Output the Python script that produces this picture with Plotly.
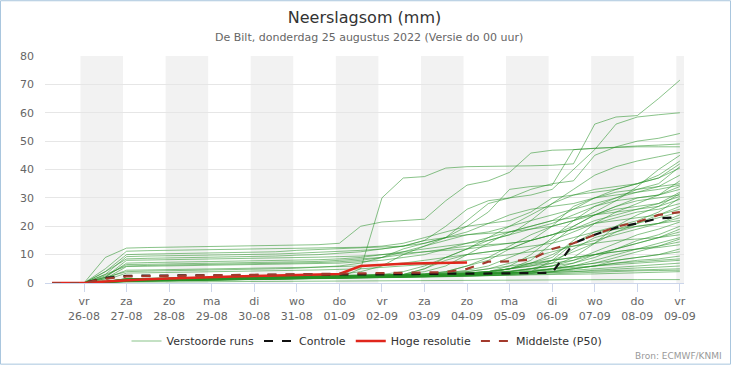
import pandas as pd
import plotly.graph_objects as go

# ---------------- data ----------------
times = ["2022-08-25 06:00", "2022-08-25 12:00"] + [
    t.strftime("%Y-%m-%d %H:%M") for t in pd.date_range("2022-08-26 00:00", "2022-09-09 00:00", freq="12h")
]

day_names = ["vr", "za", "zo", "ma", "di", "wo", "do", "vr", "za", "zo", "ma", "di", "wo", "do", "vr"]
day_dates = ["26-08", "27-08", "28-08", "29-08", "30-08", "31-08", "01-09", "02-09",
             "03-09", "04-09", "05-09", "06-09", "07-09", "08-09", "09-09"]
day_ticks = ["2022-08-26", "2022-08-27", "2022-08-28", "2022-08-29", "2022-08-30", "2022-08-31",
             "2022-09-01", "2022-09-02", "2022-09-03", "2022-09-04", "2022-09-05", "2022-09-06",
             "2022-09-07", "2022-09-08", "2022-09-09"]
y_ticks = [0, 10, 20, 30, 40, 50, 60, 70, 80]

m01 = [0,0,0,0.3,0.8,0.9,1,1,1.1,1.2,1.3,1.4,1.5,1.6,2,5,30,37,37.5,40.5,41,41,41.2,41.3,41.5,42,56,58.5,59,65,71.5]
m02 = [0,0,0,4,8.5,8.7,8.8,9,9.1,9.2,9.3,9.5,9.8,10,10.5,11,12,13,15,20,26,29,30,31,33,40,47,56,58.5,59.3,60]
m03 = [0,0,0,2,4,4.2,4.3,4.4,4.5,4.6,4.8,5,5.2,5.5,6,7,9,12,14,16,22,28,30,33,35,36,45,48,50,51,52.7]
m04 = [0,0,0,9,12.3,12.5,12.6,12.7,12.8,12.9,13,13.1,13.3,13.5,14,20,21.5,22,22.5,29,34.5,36,39,45.8,46.8,47,47.5,48,48.3,48.6,49]
m05 = [0,0,0,0.5,1.5,1.6,1.7,1.8,1.9,2,2.1,2.2,2.3,2.5,3,4,6,10,13,16,20,25,33,34,34.5,47,47.5,47.8,48,48,48]
m06 = [0,0,0,3,6,6.2,6.3,6.4,6.5,6.6,6.7,6.8,7,7.2,7.5,8,9,11,13,15,17,18,20,24,28,33,38,41,43,44.5,46]
m07 = [0,0,0,0.4,1,1.1,1.2,1.3,1.4,1.5,1.6,1.7,1.8,1.9,2,2.2,2.5,3,4,6,10,14,18,19,20,22,25,29,34,40,45]
m08 = [0,0,0,5,11.2,11.4,11.5,11.6,11.7,11.8,11.9,12,12.1,12.2,12.4,12.6,13,14,16,18,20,21,22,25,30,31,32,33,35,38,43]
m09 = [0,0,0,0.3,0.8,0.9,1,1.1,1.2,1.3,1.4,1.5,1.6,1.7,1.8,2,2.5,3,5,9,12,15,17,22,28,31,33,34,35,37,42]
m10 = [0,0,0,0.5,1.2,1.3,1.4,1.5,1.6,1.7,1.8,1.9,2,2.1,2.2,2.4,2.6,2.8,3,3.2,3.5,4,6,10,16,22,27,30,33,35,41]
m11 = [0,0,0,4,10,10.2,10.3,10.4,10.5,10.6,10.7,11,11.5,11.8,12,12.3,12.5,13,14,16,18,21,24,26,27,28,30,33,35,37,40.5]
m12 = [0,0,0,0.5,1.5,1.6,1.7,1.8,1.9,2,2.1,2.2,2.3,2.4,2.5,2.6,2.8,3,5,8,10,11,12,15,20,27,30,31,32,34,38]
m13 = [0,0,0,0.3,1,1.1,1.2,1.3,1.4,1.5,1.6,1.7,1.8,1.9,2,2.1,2.2,2.3,2.5,2.7,3,3.5,5,8,14,20,24,27,30,31,36]
m14 = [0,0,0,3,9.3,9.5,9.6,9.7,9.8,9.9,10,10.2,10.5,10.8,11,11.5,12,13,15,16,17,17.5,18,20,22,26,30,32,33,34,35]
m15 = [0,0,0,0.5,1.3,1.4,1.5,1.6,1.7,1.8,1.9,2,2.1,2.2,2.3,2.5,3,4,6,9,12,16,20,22,24,26,28,30,32,33,34.5]
m16 = [0,0,0,0.2,0.6,0.7,0.8,0.9,1,1.1,1.2,1.3,1.4,1.5,1.6,1.7,1.9,2.1,2.4,2.8,3.2,4,5,7,9,15,21,25,28,31,34]
m17 = [0,0,0,2,7,7.2,7.3,7.4,7.5,7.6,7.7,7.8,8,8.2,8.5,9,10,11,12,13,14,15,17,19,21,24,27,29,30,31,33]
m18 = [0,0,0,0.4,1.1,1.2,1.3,1.4,1.5,1.6,1.7,1.8,1.9,2,2.1,2.3,2.5,2.8,3,4,6,8,12,15,17,19,22,24,26,28,32]
m19 = [0,0,0,0.3,0.9,1,1.1,1.2,1.3,1.4,1.5,1.6,1.7,1.8,1.9,2,2.2,2.4,2.6,2.8,3,3.5,4,5,6,9,14,20,24,27,31.5]
m20 = [0,0,0,2.5,6.5,6.6,6.7,6.8,6.9,7,7.1,7.2,7.4,7.6,8,8.5,9,10,11,12,13,13.5,14,15,17,20,24,27,29,30,31]
m21 = [0,0,0,0.5,1.4,1.5,1.6,1.7,1.8,1.9,2,2.1,2.2,2.3,2.4,2.5,2.7,2.9,3.2,4,6,9,13,17,20,22,24,26,27,28,30.5]
m22 = [0,0,0,0.3,0.8,0.9,1,1.1,1.2,1.3,1.4,1.5,1.6,1.7,1.8,1.9,2,2.2,2.4,2.6,2.8,3,3.3,4,8,14,18,20,22,25,30]
m23 = [0,0,0,1.5,5.8,5.9,6,6.1,6.2,6.3,6.4,6.5,6.7,6.9,7,7.5,8,9,10,12,14,16,18,20,22,23,24,25,26,27,29.5]
m24 = [0,0,0,0.4,1.2,1.3,1.4,1.5,1.6,1.7,1.8,1.9,2,2.1,2.2,2.3,2.5,2.7,3,3.5,4.5,6,9,12,15,18,21,23,25,26,28]
m25 = [0,0,0,0.2,0.7,0.8,0.9,1,1.1,1.2,1.3,1.4,1.5,1.6,1.7,1.8,2,2.2,2.5,3,3.5,4,5,6,8,11,14,18,21,24,27]
m26 = [0,0,0,2,8,8.1,8.2,8.3,8.4,8.5,8.6,8.7,8.9,9.1,9.3,9.5,10,10.5,11,11.5,12,13,14,15,17,19,21,22,23,24,26]
m27 = [0,0,0,0.3,1,1.1,1.2,1.3,1.4,1.5,1.6,1.7,1.8,1.9,2,2.1,2.2,2.4,2.7,3,3.4,4,5,7,10,14,17,19,21,23,25]
m28 = [0,0,0,0.5,1.5,1.6,1.7,1.8,1.9,2,2.1,2.2,2.3,2.4,2.5,2.6,2.8,3,3.3,3.6,4,5,7,9,11,13,15,17,19,21,24]
m29 = [0,0,0,0.2,0.6,0.7,0.8,0.9,1,1.1,1.2,1.3,1.4,1.5,1.6,1.7,1.8,2,2.2,2.5,2.8,3.2,4,5,7,12,16,18,20,21,23]
m30 = [0,0,0,1.5,4.5,4.6,4.7,4.8,4.9,5,5.1,5.2,5.4,5.6,5.8,6,6.5,7,8,9,10,11,12,13,14,16,18,19,20,21,22]
m31 = [0,0,0,0.4,1.2,1.3,1.4,1.5,1.6,1.7,1.8,1.9,2,2.1,2.2,2.3,2.4,2.6,2.8,3,3.3,3.7,4.2,5,6,8,11,14,17,19,21.5]
m32 = [0,0,0,0.3,0.9,1,1.1,1.2,1.3,1.4,1.5,1.6,1.7,1.8,1.9,2,2.1,2.3,2.5,2.8,3,3.5,4,5,6,7,9,12,15,17,20]
m33 = [0,0,0,0.5,1.4,1.5,1.6,1.7,1.8,1.9,2,2.1,2.2,2.3,2.4,2.5,2.6,2.8,3,3.3,3.6,4,5,6,7,8,10,12,14,16,19]
m34 = [0,0,0,0.2,0.7,0.8,0.9,1,1.1,1.2,1.3,1.4,1.5,1.6,1.7,1.8,1.9,2,2.2,2.4,2.6,3,3.5,4,5,7,10,12,14,16,18]
m35 = [0,0,0,1,3.5,3.6,3.7,3.8,3.9,4,4.1,4.2,4.4,4.6,4.8,5,5.5,6,6.5,7,8,9,10,11,12,13,14,15,15.5,16,17]
m36 = [0,0,0,0.3,1,1.1,1.2,1.3,1.4,1.5,1.6,1.7,1.8,1.9,2,2.1,2.2,2.4,2.6,2.8,3,3.3,3.6,4,5,6,8,10,12,14,16]
m37 = [0,0,0,0.4,1.1,1.2,1.3,1.4,1.5,1.6,1.7,1.8,1.9,2,2.1,2.2,2.3,2.5,2.7,3,3.4,4,5,6.5,8,9,10,11,12,13,15.5]
m38 = [0,0,0,0.2,0.6,0.7,0.8,0.9,1,1.1,1.2,1.3,1.4,1.5,1.6,1.7,1.8,2,2.2,2.4,2.6,3,3.5,4,5,6,7,9,11,13,14.5]
m39 = [0,0,0,0.5,1.5,1.6,1.7,1.8,1.9,2,2.1,2.2,2.3,2.4,2.5,2.6,2.7,2.9,3.1,3.4,4,5,6,7,8,9,10,11,12,12.5,13.5]
m40 = [0,0,0,0.3,0.9,1,1.1,1.2,1.3,1.4,1.5,1.6,1.7,1.8,1.9,2,2.1,2.2,2.4,2.6,2.8,3,3.3,3.6,4,5,6,8,9,10,12]
m41 = [0,0,0,0.4,1.2,1.3,1.4,1.5,1.6,1.7,1.8,1.9,2,2.1,2.2,2.3,2.4,2.5,2.6,2.8,3,3.2,3.5,4,5,6,7,8,9,10,11]
m42 = [0,0,0,0.2,0.5,0.6,0.7,0.8,0.9,1,1.1,1.2,1.3,1.4,1.5,1.6,1.7,1.8,2,2.2,2.4,2.6,3,3.4,4,5,6,7,8,8.5,9.5]
m43 = [0,0,0,0.3,1,1.1,1.2,1.3,1.4,1.5,1.6,1.7,1.8,1.9,2,2.1,2.2,2.3,2.5,2.7,3,3.3,3.6,4,4.5,5,6,7,7.5,8,8.5]
m44 = [0,0,0,0.4,1.3,1.4,1.5,1.6,1.7,1.8,1.9,2,2.1,2.2,2.3,2.4,2.5,2.6,2.8,3,3.2,3.5,4,4.5,5,5.5,6,6.5,7,7.5,8]
m45 = [0,0,0,0.2,0.6,0.7,0.8,0.9,1,1.1,1.2,1.3,1.4,1.5,1.6,1.7,1.8,1.9,2,2.2,2.4,2.6,3,3.5,4,4.5,5,5.5,6,6.5,7]
m46 = [0,0,0,0.3,0.9,1,1.1,1.2,1.3,1.4,1.5,1.6,1.7,1.8,1.9,2,2.1,2.2,2.3,2.4,2.5,2.7,3,3.3,3.6,4,4.5,5,5.3,5.6,6]
m47 = [0,0,0,0.5,1.4,1.5,1.6,1.7,1.8,1.9,2,2.1,2.2,2.3,2.4,2.5,2.6,2.7,2.8,2.9,3,3.2,3.4,3.6,3.8,4,4.3,4.6,4.8,4.9,5]
m48 = [0,0,0,0.2,0.7,0.8,0.9,1,1.1,1.2,1.3,1.4,1.5,1.6,1.7,1.8,1.9,2,2.1,2.2,2.3,2.5,2.7,3,3.3,3.6,3.9,4.1,4.3,4.4,4.5]
m49 = [0,0,0,0.3,0.8,0.9,1,1.1,1.2,1.3,1.4,1.5,1.6,1.7,1.8,1.9,2,2.1,2.2,2.3,2.4,2.5,2.6,2.7,2.8,3,3.2,3.4,3.6,3.8,4]
m50 = [0,0,0,0.1,0.3,0.35,0.4,0.45,0.5,0.55,0.6,0.65,0.7,0.75,0.8,0.85,0.9,0.95,1,1,1.05,1.1,1.1,1.15,1.15,1.2,1.2,1.2,1.2,1.2,1.2]

members = [m01, m02, m03, m04, m05, m06, m07, m08, m09, m10, m11, m12, m13, m14, m15, m16, m17,
           m18, m19, m20, m21, m22, m23, m24, m25, m26, m27, m28, m29, m30, m31, m32, m33, m34,
           m35, m36, m37, m38, m39, m40, m41, m42, m43, m44, m45, m46, m47, m48, m49, m50]

controle = [0,0,0,1.8,2.5,2.6,2.6,2.7,2.7,2.8,2.8,2.9,2.9,3,3,3,3.1,3.1,3.2,3.2,3.3,3.3,3.4,3.5,3.6,14,17,19.5,21,22.8,23.2]
hoge_resolutie = [0,0,0,0.5,1,1.3,1.6,1.9,2.1,2.3,2.5,2.7,2.8,2.9,3.2,6,6.5,6.8,7,7.1,7.2]
middelste = [0,0,0,1.5,2.3,2.4,2.5,2.6,2.7,2.8,2.9,3,3,3.1,3.2,3.3,3.4,3.5,3.6,3.8,5,7.5,7.6,8.3,12,14,17,19.8,21.5,24,25]

# bands: alternate local days (CEST midnight = 22:00 UTC)
band_starts = ["2022-08-25 22:00", "2022-08-27 22:00", "2022-08-29 22:00", "2022-08-31 22:00",
               "2022-09-02 22:00", "2022-09-04 22:00", "2022-09-06 22:00", "2022-09-08 22:00"]
x_range = ["2022-08-25 02:00", "2022-09-09 02:20"]

# ---------------- layout helpers ----------------
W, H = 732, 366
ML, MR, MT, MB = 45, 48, 56, 82
PW, PH = W - ML - MR, H - MT - MB

def px_x(p):
    return (p - ML) / PW

def px_y(p):
    return (H - MB - p) / PH

FONT = "DejaVu Sans"

fig = go.Figure()

for i, m in enumerate(members):
    fig.add_trace(go.Scatter(
        x=times, y=m, mode="lines", name="Verstoorde runs", legendgroup="ens",
        showlegend=(i == 0), line=dict(color="rgba(40,145,40,0.55)", width=1),
        hoverinfo="skip"))

fig.add_trace(go.Scatter(x=times, y=controle, mode="lines", name="Controle",
                         line=dict(color="#111111", width=2.2, dash="dash")))
fig.add_trace(go.Scatter(x=times[:len(hoge_resolutie)], y=hoge_resolutie, mode="lines",
                         name="Hoge resolutie", line=dict(color="#e0261c", width=2.5)))
fig.add_trace(go.Scatter(x=times, y=middelste, mode="lines", name="Middelste (P50)",
                         line=dict(color="#a33a2c", width=2.2, dash="dash")))

shapes = []
for b in band_starts:
    e = pd.Timestamp(b) + pd.Timedelta(hours=24)
    e = min(e, pd.Timestamp(x_range[1]))
    shapes.append(dict(type="rect", xref="x", yref="paper", x0=b, x1=e.strftime("%Y-%m-%d %H:%M"),
                       y0=0, y1=1, fillcolor="#f2f2f2", line=dict(width=0), layer="below"))
# outer border
shapes.append(dict(type="rect", xref="paper", yref="paper",
                   x0=px_x(0.5), x1=px_x(W - 1.5), y0=px_y(H - 0.5), y1=px_y(0.5),
                   line=dict(color="#a9c6de", width=1), fillcolor="rgba(0,0,0,0)", layer="above"))

ticktext = [f"{d}<br>{t}" for d, t in zip(day_names, day_dates)]

fig.update_layout(
    width=W, height=H, autosize=False,
    margin=dict(l=ML, r=MR, t=MT, b=MB),
    paper_bgcolor="white", plot_bgcolor="white",
    font=dict(family=FONT, color="#666666", size=11),
    title=dict(text="Neerslagsom (mm)", x=0.5, xref="paper", xanchor="center",
               y=1 - 17 / H, yref="container", yanchor="middle",
               font=dict(family=FONT, size=16, color="#333333")),
    annotations=[
        dict(text="De Bilt, donderdag 25 augustus 2022 (Versie do 00 uur)", xref="paper", yref="paper",
             x=px_x(369), y=px_y(37), xanchor="center", yanchor="middle", showarrow=False,
             font=dict(family=FONT, size=11, color="#666666")),
        dict(text="Bron: ECMWF/KNMI", xref="paper", yref="paper", x=px_x(724), y=px_y(357),
             xanchor="right", yanchor="middle", showarrow=False,
             font=dict(family=FONT, size=9, color="#999999")),
    ],
    shapes=shapes,
    showlegend=True,
    legend=dict(orientation="h", x=px_x(367), xanchor="center", y=px_y(341), yanchor="middle",
                font=dict(family=FONT, size=11, color="#333333"), bgcolor="rgba(0,0,0,0)",
                itemwidth=30, tracegroupgap=0),
    xaxis=dict(type="date", range=x_range, tickvals=day_ticks, ticktext=ticktext,
               showgrid=False, showline=True, linecolor="#ccd6eb", linewidth=1,
               ticks="outside", ticklen=8, tickcolor="#ccd6eb", tickwidth=1,
               tickfont=dict(family=FONT, size=11, color="#666666"), zeroline=False),
    yaxis=dict(range=[0, 80], tickvals=y_ticks, showgrid=True, gridcolor="#e6e6e6", gridwidth=1,
               zeroline=False, showline=False, ticks="", ticklabelstandoff=10,
               tickfont=dict(family=FONT, size=11, color="#666666")),
    yaxis2=dict(range=[0, 80], tickvals=y_ticks, overlaying="y", side="right", showgrid=False,
                zeroline=False, showline=False, ticks="", ticklabelstandoff=9,
                tickfont=dict(family=FONT, size=11, color="#666666")),
)

fig.write_html("out.html", config={"displayModeBar": False},
               post_script="document.body.style.margin='0px';document.body.style.overflow='hidden';")
